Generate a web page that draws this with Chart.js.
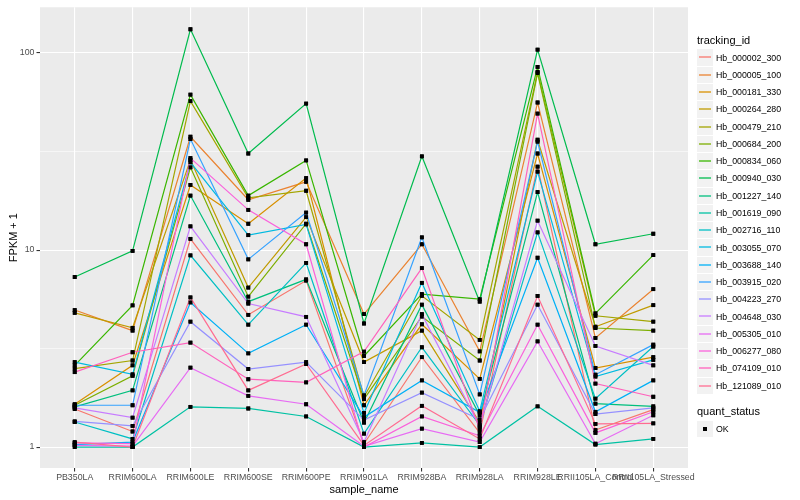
<!DOCTYPE html>
<html>
<head>
<meta charset="utf-8">
<script src="https://cdn.jsdelivr.net/npm/chart.js@4/dist/chart.umd.min.js"></script>
<style>
  body { margin: 0; background: #fff; font-family: "Liberation Sans", Arial, sans-serif; }
  #wrap { position: relative; width: 800px; height: 500px; }
  #legend { position: absolute; left: 697px; top: 32px; color: #000; }
  .lg-title { font-size: 11px; height: 17px; line-height: 17px; }
  .lg-row { display: flex; align-items: center; height: 17.28px; }
  .lg-key { width: 16px; height: 16.3px; background: #f2f2f2; margin-right: 3px; }
  .lg-key svg { display: block; }
  .lg-text { font-size: 8.8px; color: #000; }
  #legend2 { margin-top: 9px; }
</style>
</head>
<body>
<div id="wrap">
  <canvas id="chart" width="800" height="500"></canvas>
  <div id="legend"></div>
</div>
<script>
// x categories
const SAMPLES = ["PB350LA", "RRIM600LA", "RRIM600LE", "RRIM600SE", "RRIM600PE", "RRIM901LA",
  "RRIM928BA", "RRIM928LA", "RRIM928LE", "RRII105LA_Control", "RRII105LA_Stressed"];

const TRACKING_IDS = ["Hb_000002_300", "Hb_000005_100", "Hb_000181_330", "Hb_000264_280",
  "Hb_000479_210", "Hb_000684_200", "Hb_000834_060", "Hb_000940_030", "Hb_001227_140",
  "Hb_001619_090", "Hb_002716_110", "Hb_003055_070", "Hb_003688_140", "Hb_003915_020",
  "Hb_004223_270", "Hb_004648_030", "Hb_005305_010", "Hb_006277_080", "Hb_074109_010",
  "Hb_121089_010"];

// FPKM + 1, one row per tracking_id, one value per sample
const FPKM_PLUS_1 = [
  [1.56, 1.2, 11.4, 4.69, 7.0, 1.04, 2.86, 1.18, 26.5, 1.22, 1.55],
  [4.96, 3.9, 37.6, 18.0, 22.2, 4.73, 10.7, 3.06, 56.1, 3.58, 6.33],
  [1.65, 2.6, 21.4, 13.6, 23.2, 1.63, 4.2, 2.22, 30.9, 2.52, 2.86],
  [4.8, 4.03, 28.7, 6.45, 14.7, 2.7, 3.9, 1.33, 36.3, 4.08, 5.25],
  [2.5, 2.75, 57, 18.4, 20.0, 1.8, 5.86, 3.5, 80.2, 4.64, 4.33],
  [1.63, 2.3, 26.3, 5.8, 13.6, 1.75, 4.6, 2.75, 79.1, 4.02, 3.9],
  [2.6, 5.24, 61.5, 18.9, 28.5, 2.9, 5.98, 5.63, 85, 4.77, 9.43],
  [7.3, 9.9, 132, 30.9, 55.4, 4.24, 29.9, 5.47, 104, 10.7, 12.1],
  [1.6, 1.94, 18.9, 5.47, 7.1, 1.33, 5.28, 1.45, 19.7, 1.66, 1.61],
  [1.0, 1.0, 1.6, 1.57, 1.43, 1.0, 1.05, 1.0, 1.61, 1.03, 1.1],
  [1.34, 1.1, 9.4, 4.18, 8.6, 1.17, 3.21, 1.29, 12.3, 1.76, 3.24],
  [2.7, 2.34, 27.9, 11.9, 13.5, 1.49, 6.82, 1.52, 25.0, 2.28, 2.77],
  [1.03, 1.06, 5.42, 2.99, 4.18, 1.42, 2.18, 1.5, 9.14, 1.51, 2.18],
  [1.63, 1.63, 36.6, 8.97, 15.5, 1.83, 11.6, 1.85, 35.5, 2.33, 3.31],
  [1.35, 1.28, 4.33, 2.49, 2.7, 1.37, 1.89, 1.38, 5.28, 1.47, 1.58],
  [1.58, 1.41, 13.2, 5.35, 4.58, 1.06, 4.73, 1.27, 14.1, 3.26, 2.6],
  [1.02, 1.01, 2.53, 1.82, 1.65, 1.01, 1.24, 1.06, 3.44, 1.04, 1.45],
  [1.05, 1.04, 29.3, 16.0, 10.7, 1.0, 1.43, 1.14, 4.18, 1.18, 1.51],
  [2.4, 3.03, 3.39, 2.21, 2.13, 3.05, 8.1, 1.23, 49.3, 2.1, 1.8],
  [1.06, 1.0, 5.75, 1.94, 2.64, 1.02, 1.62, 1.1, 5.85, 1.31, 1.32]
];

const Y_MAJOR = [1, 10, 100];
const Y_MINOR = [3.1623, 31.623];
const QUANT_STATUS = ["OK"];

// ggplot2 default hue palette for 20 groups
const COLORS = ["#F8766D", "#EA8331", "#D89000", "#C09B00", "#A3A500", "#7CAE00", "#39B600",
  "#00BB4E", "#00BF7D", "#00C1A3", "#00BFC4", "#00BAE0", "#00B0F6", "#35A2FF", "#9590FF",
  "#C77CFF", "#E76BF3", "#FA62DB", "#FF62BC", "#FF6C91"];

Chart.defaults.font.family = "'Liberation Sans', Arial, sans-serif";

const isMajor = v => Y_MAJOR.some(m => Math.abs(m - v) < 1e-6);

const panelBg = {
  id: "panelBg",
  beforeDraw(chart) {
    const { ctx, chartArea: a } = chart;
    ctx.save();
    ctx.fillStyle = "#ebebeb";
    ctx.fillRect(a.left, a.top, a.right - a.left, a.bottom - a.top);
    ctx.restore();
  },
  // points sit above every line, like geom_point after geom_line
  afterDatasetsDraw(chart) {
    const ctx = chart.ctx;
    ctx.save();
    chart.getSortedVisibleDatasetMetas().forEach(m => m.data.forEach(pt => pt.draw(ctx, chart.chartArea)));
    ctx.restore();
  }
};

const n = TRACKING_IDS.length;
const datasets = TRACKING_IDS.map((id, i) => ({
  label: id,
  data: FPKM_PLUS_1[i].map((v, j) => ({ x: j, y: v })),
  borderColor: COLORS[i],
  backgroundColor: COLORS[i],
  borderWidth: 1.2,
  pointStyle: "rect",
  pointRadius: 2.7,
  pointBorderWidth: 0,
  pointBackgroundColor: "#000",
  pointBorderColor: "#000",
  tension: 0,
  order: n - 1 - i
}));

new Chart(document.getElementById("chart"), {
  type: "line",
  data: { datasets },
  plugins: [panelBg],
  options: {
    responsive: false,
    animation: false,
    layout: { padding: { left: 0, right: 112, top: 4, bottom: 0 } },
    plugins: { legend: { display: false }, tooltip: { enabled: false } },
    scales: {
      x: {
        type: "linear",
        min: -0.6,
        max: SAMPLES.length - 1 + 0.6,
        afterBuildTicks: s => { s.ticks = SAMPLES.map((_, i) => ({ value: i })); },
        afterFit: s => { s.height = 32; },
        border: { display: false },
        grid: { color: "#ffffff", lineWidth: 1.1, tickColor: "#333333", tickLength: 3.5 },
        ticks: {
          autoSkip: false, maxRotation: 0, minRotation: 0, padding: 1,
          color: "#4d4d4d", font: { size: 8.8 },
          callback: v => SAMPLES[v] ?? ""
        },
        title: { display: true, text: "sample_name", color: "#000", font: { size: 11 }, padding: { top: 0, bottom: 3 } }
      },
      y: {
        type: "logarithmic",
        min: 0.783,
        max: 170.7,
        afterBuildTicks: s => {
          s.ticks = [...Y_MAJOR, ...Y_MINOR].sort((a, b) => a - b).map(v => ({ value: v, major: isMajor(v) }));
        },
        afterFit: s => { s.width = 40; },
        border: { display: false },
        grid: {
          color: "#ffffff",
          lineWidth: c => isMajor(c.tick.value) ? 1.1 : 0.55,
          tickColor: c => isMajor(c.tick.value) ? "#333333" : "rgba(0,0,0,0)",
          tickLength: 3.5
        },
        ticks: {
          padding: 2, color: "#4d4d4d", font: { size: 8.8 },
          callback: v => isMajor(v) ? String(v) : ""
        },
        title: { display: true, text: "FPKM + 1", color: "#000", font: { size: 11 }, padding: { top: 7, bottom: 0 } }
      }
    }
  }
});

// legend, ggplot style
const lg = document.getElementById("legend");
const key = inner => `<div class="lg-key"><svg width="16" height="16">${inner}</svg></div>`;
let html = '<div class="lg-title">tracking_id</div>';
TRACKING_IDS.forEach((id, i) => {
  html += `<div class="lg-row">${key(`<line x1="2" x2="14" y1="8" y2="8" stroke="${COLORS[i]}" stroke-width="1.3"/>`)}<span class="lg-text">${id}</span></div>`;
});
html += '<div id="legend2"><div class="lg-title">quant_status</div>';
QUANT_STATUS.forEach(s => {
  html += `<div class="lg-row">${key('<rect x="6" y="6" width="4" height="4" fill="#000"/>')}<span class="lg-text">${s}</span></div>`;
});
html += '</div>';
lg.innerHTML = html;
</script>
</body>
</html>
